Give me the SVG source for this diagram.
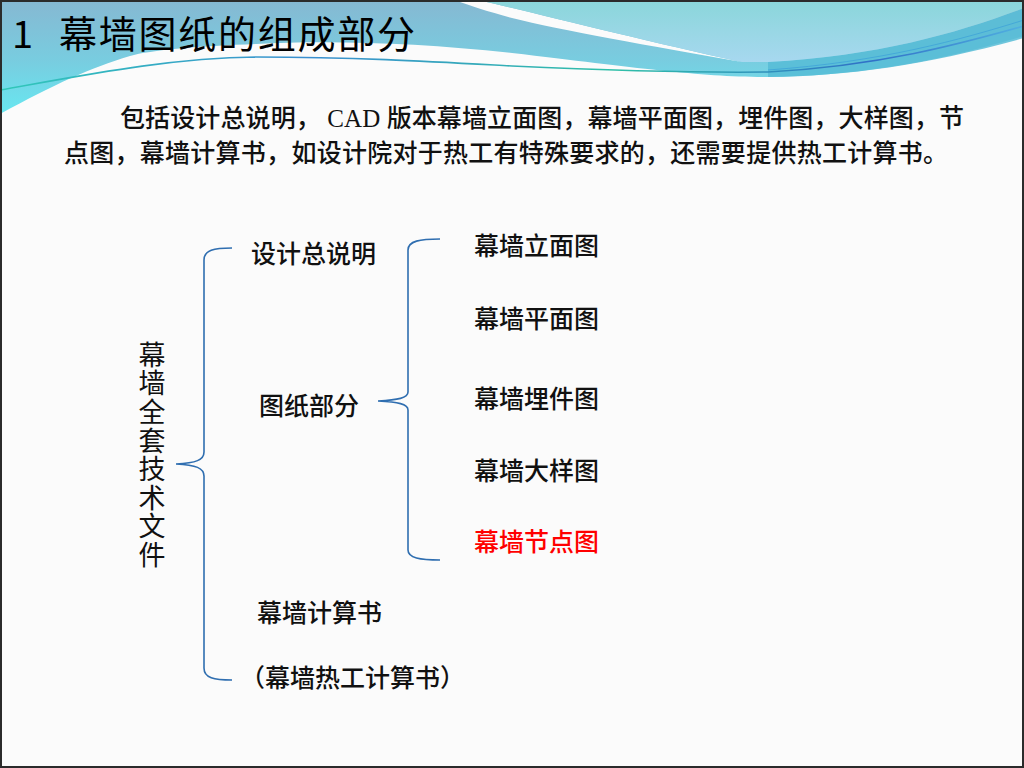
<svg xmlns="http://www.w3.org/2000/svg" width="1024" height="768" viewBox="0 0 1024 768">
<defs>
<linearGradient id="gBlue" x1="0" y1="0" x2="0" y2="112" gradientUnits="userSpaceOnUse">
<stop offset="0" stop-color="#86b8d2"/>
<stop offset="0.55" stop-color="#78cde0"/>
<stop offset="1" stop-color="#68e6f0"/>
</linearGradient>
<linearGradient id="gAqua" x1="0" y1="0" x2="0" y2="64" gradientUnits="userSpaceOnUse">
<stop offset="0" stop-color="#8ad6da"/>
<stop offset="1" stop-color="#a8d8f0"/>
</linearGradient>
<linearGradient id="gLine" x1="0" y1="0" x2="1024" y2="0" gradientUnits="userSpaceOnUse">
<stop offset="0" stop-color="#30c8b8"/>
<stop offset="0.3" stop-color="#3a8fd0"/>
<stop offset="0.6" stop-color="#30c0a8"/>
<stop offset="0.85" stop-color="#3070c8"/>
<stop offset="1" stop-color="#50b0e0"/>
</linearGradient>
<style>
.lbl{font-family:"Noto Sans CJK SC","Liberation Sans",sans-serif;font-size:25px;font-weight:500;fill:#111}
.para{font-family:"Liberation Serif","Noto Sans CJK SC",serif;font-size:25px;font-weight:500;fill:#111}
.brace{fill:none;stroke:#2f6eb0;stroke-width:1.6}
</style>
</defs>
<rect x="0" y="0" width="1024" height="768" fill="#fbfbfb"/>
<g id="header">
<path d="M0,0 L1024,0 L1024,36 C930,64 850,76 768,77 C700,77 640,68 512,53 C420,43 330,40 256,44 C200,46 150,50 130,56 C90,68 55,84 0,114 Z" fill="url(#gBlue)"/>
<path d="M768,62 C880,56 960,32 1024,8 L1024,38 C930,64 850,76 768,77 Z" fill="#56bcd6" opacity="0.85"/>
<path d="M455,0 L478,0 C540,14 640,40 742,62 C650,46 560,30 512,18 C490,12 470,6 455,0 Z" fill="#fbfbfb"/>
<path d="M478,0 L1024,0 L1024,8 C960,32 880,56 768,62 L742,62 C640,40 540,14 478,0 Z" fill="url(#gAqua)"/>
<path d="M0,90 C90,74 170,58 256,57 C360,57 440,62 512,66 C600,70 690,73 768,72 C880,66 960,44 1024,26" fill="none" stroke="url(#gLine)" stroke-width="1.6"/>
<path d="M768,70 C880,62 960,40 1024,20" fill="none" stroke="#3aa0d8" stroke-width="1" opacity="0.7"/>
</g>
<g id="title">
<text x="12" y="48" font-family="Noto Sans CJK SC, sans-serif" font-size="38" fill="#000">1</text>
<text x="59" y="48" font-family="Noto Sans CJK SC, sans-serif" font-size="38" fill="#000" textLength="356">幕墙图纸的组成部分</text>
</g>
<g id="paragraph">
<text class="para" x="120" y="127" textLength="844" lengthAdjust="spacing">包括设计总说明， CAD 版本幕墙立面图，幕墙平面图，埋件图，大样图，节</text>
<text class="para" x="64" y="162" textLength="884" lengthAdjust="spacing">点图，幕墙计算书，如设计院对于热工有特殊要求的，还需要提供热工计算书。</text>
</g>
<g id="root">
<text x="152" y="341" font-family="Noto Sans CJK SC, sans-serif" font-size="27" fill="#111" style="writing-mode:vertical-rl;letter-spacing:1.6px">幕墙全套技术文件</text>
</g>
<g id="connectors">
<path class="brace" d="M232,248 C214,248 204,250 204,260 L204,452 C204,460 196,463 176,464 C196,465 204,468 204,476 L204,668 C204,678 214,680 232,680"/>
<path class="brace" d="M440,239 C420,239 408,241 408,250 L408,392 C408,398 398,400 378,401 C398,402 408,404 408,410 L408,550 C408,558 420,560 440,560"/>
</g>
<g id="n-sheji"><text class="lbl" x="251" y="263">设计总说明</text></g>
<g id="n-tuzhi"><text class="lbl" x="259" y="415">图纸部分</text></g>
<g id="n-jisuan"><text class="lbl" x="257" y="622">幕墙计算书</text></g>
<g id="n-regong"><text class="lbl" x="240" y="687">（幕墙热工计算书）</text></g>
<g id="n-limian"><text class="lbl" x="474" y="255">幕墙立面图</text></g>
<g id="n-pingmian"><text class="lbl" x="474" y="328">幕墙平面图</text></g>
<g id="n-maijian"><text class="lbl" x="474" y="408">幕墙埋件图</text></g>
<g id="n-dayang"><text class="lbl" x="474" y="480">幕墙大样图</text></g>
<g id="n-jiedian"><text class="lbl" x="474" y="551" style="fill:#ff0000">幕墙节点图</text></g>
<rect x="1" y="1" width="1022" height="766" fill="none" stroke="#2b2b2b" stroke-width="2"/>
</svg>
